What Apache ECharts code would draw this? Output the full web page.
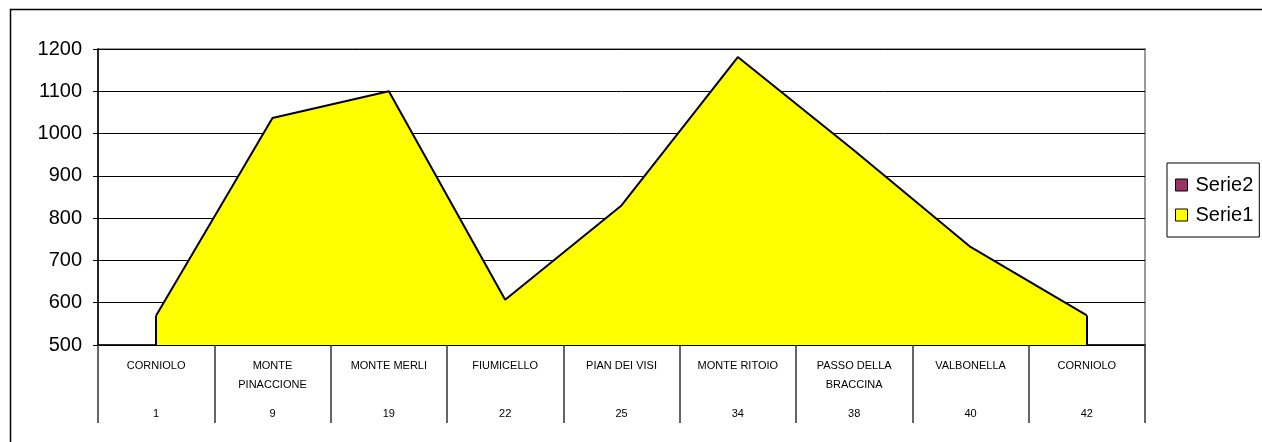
<!DOCTYPE html>
<html>
<head>
<meta charset="utf-8">
<script src="https://cdn.jsdelivr.net/npm/echarts@6/dist/echarts.min.js"></script>
<style>
html,body{margin:0;padding:0;background:#fff;}
#c{width:1262px;height:442px;}
</style>
</head>
<body>
<div id="c"></div>
<script>
const kmLabels = ['1', '9', '19', '22', '25', '34', '38', '40', '42'];
const placeNames = ['CORNIOLO', 'MONTE\nPINACCIONE', 'MONTE MERLI', 'FIUMICELLO', 'PIAN DEI VISI', 'MONTE RITOIO', 'PASSO DELLA\nBRACCINA', 'VALBONELLA', 'CORNIOLO'];
const serie1 = [570, 1037, 1100, 607, 830, 1181, 960, 732, 570];
const serie2 = [];
const yTicks = [500, 600, 700, 800, 900, 1000, 1100, 1200];

const chart = echarts.init(document.getElementById('c'), null, {renderer: 'canvas'});
const FONT = '"Liberation Sans", Arial, sans-serif';
const yMin = yTicks[0];
const lastIdx = serie1.length - 1;

chart.setOption({
  animation: false,
  backgroundColor: '#fff',
  graphic: [{
    type: 'rect',
    shape: {x: 10.5, y: 9.5, width: 2000, height: 1000},
    style: {fill: 'none', stroke: '#000', lineWidth: 1.5},
    silent: true
  }],
  grid: {
    left: 98, right: 117, top: 49, bottom: 97,
    show: true, borderColor: '#999', borderWidth: 2, backgroundColor: 'transparent'
  },
  legend: {
    orient: 'vertical',
    left: 1167, top: 163,
    padding: [12, 6, 12, 8],
    itemGap: 10,
    itemWidth: 12, itemHeight: 12,
    icon: 'rect',
    borderColor: '#000', borderWidth: 1,
    textStyle: {fontFamily: FONT, fontSize: 20, color: '#000', padding: [0, 0, 0, 3]},
    lineStyle: {opacity: 0},
    data: [
      {name: 'Serie2', itemStyle: {color: '#993366', borderColor: '#000', borderWidth: 1}},
      {name: 'Serie1', itemStyle: {color: '#ffff00', borderColor: '#000', borderWidth: 1}}
    ]
  },
  xAxis: {
    type: 'category',
    data: kmLabels,
    boundaryGap: true,
    axisLine: {show: true, lineStyle: {color: '#000', width: 1.5}},
    axisTick: {show: true, interval: 0, length: 78, lineStyle: {color: '#333', width: 1.5}},
    axisLabel: {
      interval: 0,
      margin: 11,
      formatter: function (val, idx) {
        const parts = placeNames[idx].split('\n');
        while (parts.length < 2) parts.push(' ');
        return parts.map(p => '{n|' + p + '}').join('\n') + '\n{v|' + val + '}';
      },
      rich: {
        n: {fontFamily: FONT, fontSize: 11, lineHeight: 19, color: '#000'},
        v: {fontFamily: FONT, fontSize: 11, lineHeight: 39, color: '#000'}
      }
    },
    splitLine: {show: false}
  },
  yAxis: {
    type: 'value',
    min: yMin, max: yTicks[yTicks.length - 1], interval: 100,
    axisLine: {show: true, lineStyle: {color: '#000', width: 1.5}},
    axisTick: {show: true, length: 5, lineStyle: {color: '#000'}},
    axisLabel: {fontFamily: FONT, fontSize: 20, color: '#000', margin: 16, formatter: v => String(v)},
    splitLine: {show: true, lineStyle: {color: '#000', width: 1}}
  },
  series: [
    {
      name: 'Serie2', type: 'line', data: serie2,
      itemStyle: {color: '#993366'}, symbol: 'none'
    },
    {
      name: 'Serie1', type: 'line', data: serie1,
      symbol: 'none',
      itemStyle: {color: '#ffff00'},
      lineStyle: {color: '#000', width: 2},
      areaStyle: {color: '#ffff00', opacity: 1, origin: 'start'},
      z: 3,
      markLine: {
        silent: true,
        symbol: 'none',
        label: {show: false},
        lineStyle: {color: '#000', width: 2, type: 'solid'},
        data: [
          [{coord: [0, yMin]}, {coord: [0, serie1[0]]}],
          [{coord: [lastIdx, yMin]}, {coord: [lastIdx, serie1[lastIdx]]}]
        ]
      }
    }
  ]
});
</script>
</body>
</html>
